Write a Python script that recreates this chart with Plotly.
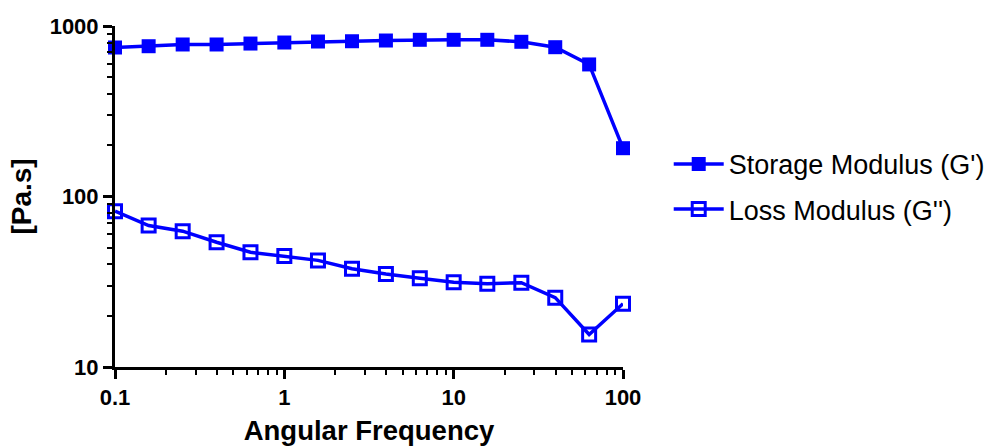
import plotly.graph_objects as go

freq = [0.1, 0.158, 0.251, 0.398, 0.631, 1.0, 1.58, 2.51, 3.98, 6.31, 10.0, 15.8, 25.1, 39.8, 63.1, 100.0]
storage = [748, 761, 779, 779, 789, 800, 811, 814, 822, 830, 830, 830, 808, 751, 595, 192]
loss = [82.0, 67.6, 62.6, 53.9, 47.1, 44.7, 42.2, 37.7, 35.1, 33.2, 31.4, 30.8, 31.2, 25.5, 15.5, 23.5]

x_ticks = [0.1, 1, 10, 100]
x_ticklabels = ["0.1", "1", "10", "100"]
x_minor = [0.2, 0.3, 0.4, 0.5, 0.6, 0.7, 0.8, 0.9,
           2, 3, 4, 5, 6, 7, 8, 9,
           20, 30, 40, 50, 60, 70, 80, 90]
y_ticks = [10, 100, 1000]
y_ticklabels = ["10", "100", "1000"]
y_minor = [20, 30, 40, 50, 60, 70, 80, 90,
           200, 300, 400, 500, 600, 700, 800, 900]

BLUE = "#0000FF"
FONT = "Liberation Sans, Arial, sans-serif"

fig = go.Figure()
fig.add_trace(go.Scatter(
    x=freq, y=storage, mode="lines+markers", name="Storage Modulus (G')",
    line=dict(color=BLUE, width=3.5),
    marker=dict(symbol="square", size=14, color=BLUE, line=dict(width=0)),
    cliponaxis=False, legendgroup="a",
))
fig.add_trace(go.Scatter(
    x=freq, y=loss, mode="lines+markers", name="Loss Modulus (G'')",
    line=dict(color=BLUE, width=3.5),
    marker=dict(symbol="square-open", size=13, color=BLUE, line=dict(width=3, color=BLUE)),
    cliponaxis=False, legendgroup="b",
))

axis_common = dict(
    showline=True, linecolor="black", linewidth=3,
    ticks="outside", ticklen=9, tickwidth=3, tickcolor="black",
    showgrid=False, zeroline=False, mirror=False, automargin=False,
    tickfont=dict(family=FONT, size=22, color="black", weight="bold"),
)

fig.update_xaxes(
    type="log", range=[-1, 2],
    tickmode="array", tickvals=x_ticks, ticktext=x_ticklabels,
    minor=dict(tickmode="array", tickvals=x_minor, ticks="outside", ticklen=5, tickwidth=2,
               tickcolor="black", showgrid=False),
    title=dict(text="<b>Angular Frequency</b>", font=dict(family=FONT, size=27.5, color="black"), standoff=13),
    **axis_common,
)
fig.update_yaxes(
    type="log", range=[1, 3],
    tickmode="array", tickvals=y_ticks, ticktext=y_ticklabels,
    minor=dict(tickmode="array", tickvals=y_minor, ticks="outside", ticklen=5, tickwidth=2,
               tickcolor="black", showgrid=False),
    title=dict(text="<b>[Pa.s]</b>", font=dict(family=FONT, size=28, color="black"), standoff=10),
    **axis_common,
)

fig.update_layout(
    width=989, height=446,
    margin=dict(l=115, r=366, t=26, b=79, autoexpand=False),
    plot_bgcolor="white", paper_bgcolor="white",
    font=dict(family=FONT, color="black"),
    showlegend=True,
    legend=dict(
        x=1.09, y=0.666, xanchor="left", yanchor="top",
        font=dict(family=FONT, size=27, color="black"),
        tracegroupgap=7, bgcolor="rgba(0,0,0,0)", itemwidth=50,
    ),
)

fig.write_html(
    "out.html",
    config={"displayModeBar": False},
    post_script="document.body.style.margin='0';document.body.style.overflow='hidden';",
)
